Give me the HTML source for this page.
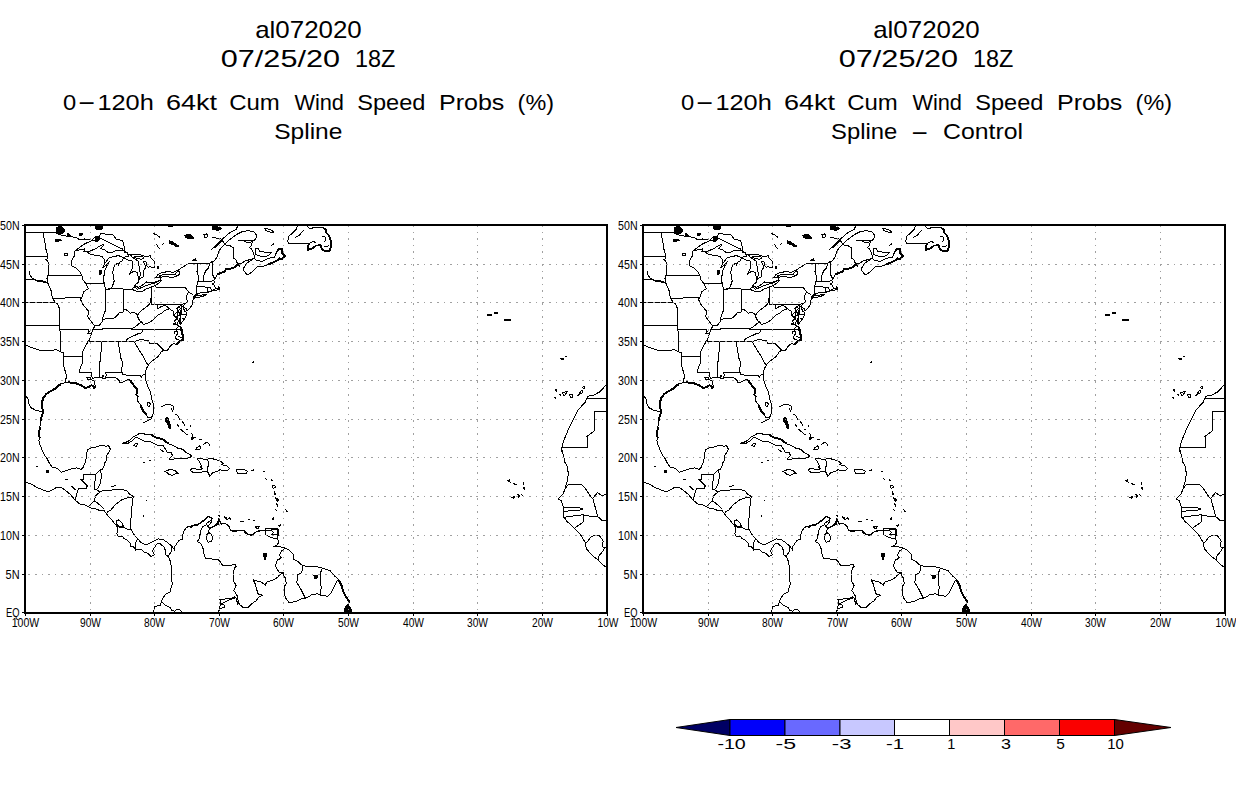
<!DOCTYPE html>
<html><head><meta charset="utf-8"><title>al072020 wind speed probs</title>
<style>html,body{margin:0;padding:0;background:#fff;}svg{display:block;}
text{font-family:"Liberation Sans", "DejaVu Sans", sans-serif;fill:#000;}</style></head>
<body><svg width="1236" height="800" viewBox="0 0 1236 800">
<rect width="1236" height="800" fill="#fff"/>
<text y="37.9" font-size="23.2"><tspan x="255.2" textLength="106.6" lengthAdjust="spacingAndGlyphs">al072020</tspan></text>
<text y="66.9" font-size="23.2"><tspan x="220.8" textLength="119.2" lengthAdjust="spacingAndGlyphs">07/25/20</tspan> <tspan x="355.0" textLength="40.4" lengthAdjust="spacingAndGlyphs">18Z</tspan></text>
<text y="110.0" font-size="21.8"><tspan x="63.0" textLength="13.2" lengthAdjust="spacingAndGlyphs">0</tspan><tspan x="77.2" dy="-1" textLength="18.8" lengthAdjust="spacingAndGlyphs">-</tspan><tspan x="97.4" dy="1" textLength="56.4" lengthAdjust="spacingAndGlyphs">120h</tspan> <tspan x="166.0" textLength="51.0" lengthAdjust="spacingAndGlyphs">64kt</tspan> <tspan x="229.2" textLength="50.6" lengthAdjust="spacingAndGlyphs">Cum</tspan> <tspan x="294.4" textLength="49.6" lengthAdjust="spacingAndGlyphs">Wind</tspan> <tspan x="357.2" textLength="68.2" lengthAdjust="spacingAndGlyphs">Speed</tspan> <tspan x="439.0" textLength="65.4" lengthAdjust="spacingAndGlyphs">Probs</tspan> <tspan x="517.6" textLength="36.4" lengthAdjust="spacingAndGlyphs">(%)</tspan></text>
<text y="37.9" font-size="23.2"><tspan x="873.2" textLength="106.6" lengthAdjust="spacingAndGlyphs">al072020</tspan></text>
<text y="66.9" font-size="23.2"><tspan x="838.8" textLength="119.2" lengthAdjust="spacingAndGlyphs">07/25/20</tspan> <tspan x="973.0" textLength="40.4" lengthAdjust="spacingAndGlyphs">18Z</tspan></text>
<text y="110.0" font-size="21.8"><tspan x="681.0" textLength="13.2" lengthAdjust="spacingAndGlyphs">0</tspan><tspan x="695.2" dy="-1" textLength="18.8" lengthAdjust="spacingAndGlyphs">-</tspan><tspan x="715.4" dy="1" textLength="56.4" lengthAdjust="spacingAndGlyphs">120h</tspan> <tspan x="784.0" textLength="51.0" lengthAdjust="spacingAndGlyphs">64kt</tspan> <tspan x="847.2" textLength="50.6" lengthAdjust="spacingAndGlyphs">Cum</tspan> <tspan x="912.4" textLength="49.6" lengthAdjust="spacingAndGlyphs">Wind</tspan> <tspan x="975.2" textLength="68.2" lengthAdjust="spacingAndGlyphs">Speed</tspan> <tspan x="1057.0" textLength="65.4" lengthAdjust="spacingAndGlyphs">Probs</tspan> <tspan x="1135.6" textLength="36.4" lengthAdjust="spacingAndGlyphs">(%)</tspan></text>
<text y="139.4" font-size="21.8"><tspan x="274.2" textLength="68.2" lengthAdjust="spacingAndGlyphs">Spline</tspan></text>
<text y="139.4" font-size="21.8"><tspan x="831.0" textLength="66.2" lengthAdjust="spacingAndGlyphs">Spline</tspan> <tspan x="910.6" textLength="18.4" lengthAdjust="spacingAndGlyphs">-</tspan> <tspan x="943.0" textLength="80.0" lengthAdjust="spacingAndGlyphs">Control</tspan></text>
<text x="717.4" y="749.0" font-size="14.5" textLength="28.4" lengthAdjust="spacingAndGlyphs">-10</text>
<text x="775.6" y="749.0" font-size="14.5" textLength="20.6" lengthAdjust="spacingAndGlyphs">-5</text>
<text x="831.8" y="749.0" font-size="14.5" textLength="19.6" lengthAdjust="spacingAndGlyphs">-3</text>
<text x="886.0" y="749.0" font-size="14.5" textLength="18.0" lengthAdjust="spacingAndGlyphs">-1</text>
<text x="947.2" y="749.0" font-size="14.5">1</text>
<text x="1001.0" y="749.0" font-size="14.5" textLength="10.0" lengthAdjust="spacingAndGlyphs">3</text>
<text x="1056.2" y="749.0" font-size="14.5" textLength="8.6" lengthAdjust="spacingAndGlyphs">5</text>
<text x="1107.2" y="749.0" font-size="14.5" textLength="16.6" lengthAdjust="spacingAndGlyphs">10</text>
<defs><clipPath id="fr"><rect x="25" y="225" width="582" height="388"/></clipPath></defs>
<g clip-path="url(#fr)" shape-rendering="crispEdges"><path d="M56.0 228.0 59.0 226.5 62.0 227.0 65.0 230.0 63.0 233.0 59.0 234.5 56.0 233.0Z M67.0 233.5 70.0 234.5 70.0 236.5 67.0 235.5Z M79.0 233.0 82.0 233.0 82.0 235.0 79.0 235.0Z M95.5 225.0 100.0 224.5 103.0 226.0 102.0 229.0 98.0 230.0 96.0 229.0Z M55.5 239.0 60.0 239.0 61.0 240.5 56.0 241.5Z M95.0 237.0 100.0 236.0 99.0 240.0 96.0 242.0Z M99.0 270.0 101.0 270.0 101.0 274.0 99.0 274.0Z M212.5 226.5 216.0 226.0 221.8 228.5 218.0 230.3 213.0 229.5Z M184.5 235.5 188.0 234.5 191.0 235.0 193.8 238.5 189.0 238.8 186.0 237.5Z M169.5 241.0 172.0 241.5 175.0 243.5 178.0 245.5 179.0 246.8 176.5 246.8 173.0 244.5 170.0 243.5Z M168.5 225.0 173.0 225.0 172.5 226.8 169.0 227.0Z M157.0 266.5 158.5 266.5 158.5 268.5 157.0 268.5Z M345.0 608.0 348.0 604.0 351.0 609.0 352.0 612.0 344.0 612.0Z M263.8 553.0 266.5 553.5 266.0 557.0 265.0 560.0 264.0 557.0Z M314.0 575.5 317.0 575.0 317.0 578.0 314.5 578.0Z M166.5 417.5 168.0 418.0 169.0 421.0 170.5 425.0 170.5 429.0 169.0 428.0 167.5 424.0 165.5 421.0 165.0 419.0Z M487.0 314.0 491.0 314.0 491.0 315.5 487.0 315.5Z M494.0 312.0 498.0 312.0 497.0 313.5 495.0 313.5Z M504.0 319.0 510.0 319.0 510.0 320.5 505.0 320.5Z M46.0 470.0 48.5 470.0 48.5 472.5 46.5 472.5Z" fill="#000" stroke="#000" stroke-width="1" stroke-linejoin="round"/><path d="M64.5 253.0 67.5 253.0 67.5 255.5 64.5 255.5Z M29.5 271.0 30.0 275.0 32.0 278.0 35.0 280.0 38.5 281.5 43.0 282.0 47.0 283.0 M210.5 250.5 215.0 246.0 219.5 241.5 224.8 237.0 230.0 232.5 236.0 229.5 237.5 226.5 238.3 224.0 M214.0 246.8 218.0 243.5 221.8 240.0 222.5 240.8 218.5 244.2 214.8 247.5Z M222.5 240.8 224.8 243.8 230.0 239.3 236.0 234.8 242.0 231.8 248.0 230.6 254.0 231.8 256.3 234.8 256.5 237.0 254.5 240.5 251.0 240.0 244.5 240.0 239.0 240.5 244.5 241.0 247.0 242.5 251.0 242.0 252.5 241.0 252.0 243.0 251.0 246.0 249.5 247.5 251.5 249.0 253.0 252.0 254.0 255.0 254.0 258.0 256.0 260.0 260.0 261.0 262.5 261.5 267.0 259.0 272.0 257.5 274.5 257.0 275.0 256.0 277.0 251.0 280.0 248.5 282.0 249.0 282.5 253.5 285.5 255.8 282.5 258.8 279.5 258.5 277.0 260.5 273.0 262.5 268.0 264.5 264.0 266.0 261.0 267.0 258.0 266.5 256.0 268.0 252.0 272.0 248.0 275.0 246.5 274.0 244.0 271.0 243.5 268.5 244.5 266.5 247.0 263.0 251.0 260.5 254.0 258.5 M238.5 264.0 242.0 263.0 245.0 261.0 248.5 260.0 252.0 259.0 254.0 258.0 M238.5 264.0 239.5 267.0 M255.5 249.0 258.0 248.5 260.0 251.5 267.0 252.5 271.5 252.5 269.0 255.0 266.0 256.5 262.0 256.5 258.0 255.5 256.0 254.5Z M270.5 246.5 272.5 244.5 274.5 243.5 M264.0 228.0 268.0 229.0 272.0 230.5 273.5 232.0 270.0 232.0 266.0 230.5Z M298.3 224.0 296.0 229.5 292.3 233.3 288.5 236.3 287.8 241.5 289.3 244.0 297.5 243.4 305.0 243.8 308.8 243.0 308.0 249.8 312.5 248.3 315.5 246.0 320.0 244.5 322.3 249.8 326.0 251.3 329.8 250.5 331.3 244.5 330.5 240.0 329.0 235.5 326.0 232.5 326.0 229.5 323.0 228.0 318.5 227.3 312.5 228.0 308.8 228.0 305.0 224.0 M303.5 230.3 299.0 235.5 295.5 237.5 M322.0 236.0 325.0 237.0 326.0 240.0 324.0 242.0 M310.0 243.0 313.0 241.5 316.0 242.5 M324.0 246.0 327.0 247.0 329.0 245.0 M204.0 234.5 206.5 234.0 208.0 236.0 206.5 237.8 204.5 237.0Z M212.0 237.2 216.0 238.0 221.0 238.8 M153.0 233.0 155.0 234.5 157.0 235.0 160.0 237.5 M156.5 244.0 158.0 247.0 160.5 249.5 M162.0 244.3 164.5 243.6 M193.0 260.5 195.5 258.5 196.5 260.8Z M265.5 530.3 268.9 530.9 272.0 531.0 M265.0 529.0 271.0 528.8 278.5 529.0 278.8 533.0 277.0 538.8 271.0 537.5 266.0 535.0Z M277.5 538.8 278.8 542.5 276.9 545.0 273.8 546.9 278.8 546.3 285.0 548.1 288.8 550.0 293.8 555.0 293.8 559.4 297.5 561.3 302.5 565.6 307.5 566.3 312.5 566.9 317.5 566.9 322.5 568.1 330.0 570.6 335.0 576.3 338.8 580.0 341.3 585.0 343.8 592.5 346.3 597.5 349.4 601.3 348.8 603.8 346.3 607.5 345.0 612.0 M285.0 548.1 281.3 551.3 279.4 555.0 281.3 558.0 277.5 560.0 276.7 562.0 275.4 566.1 277.4 569.5 279.4 572.5 284.1 572.8 M284.1 572.8 283.5 575.5 285.5 578.2 286.2 583.6 284.1 587.0 284.1 591.7 285.5 597.8 288.9 602.5 291.3 602.5 296.3 601.3 302.5 598.1 306.3 598.1 M302.5 565.6 301.9 572.5 297.5 575.0 296.9 582.5 301.3 590.0 305.0 597.5 306.3 598.1 M322.5 568.1 320.0 573.8 320.0 581.3 321.3 587.5 320.0 595.0 M306.3 598.1 311.3 595.0 317.5 593.8 320.0 595.0 327.5 596.3 331.3 592.5 335.0 585.0 337.5 580.0 M284.1 572.8 280.1 574.2 278.1 576.9 274.0 579.6 270.6 580.6 266.6 582.3 265.2 585.3 261.9 582.3 256.5 580.9 253.1 579.6 255.1 583.6 256.5 588.4 257.8 593.8 262.5 595.1 258.5 597.1 256.5 600.5 252.4 603.2 248.4 607.3 243.0 607.3 239.6 604.6 238.2 600.5 236.9 595.1 233.8 590.4 236.2 585.7 233.5 580.9 233.5 571.5 234.5 568.1 236.2 566.4 235.5 564.7 230.8 565.1 222.7 565.4 220.0 561.4 M235.5 596.5 230.8 598.5 220.0 599.5 220.6 604.3 224.0 604.9 224.0 607.7 219.5 608.3 218.3 612.0 M182.2 536.5 184.5 529.7 187.9 526.4 191.2 527.5 193.5 525.2 198.0 524.1 202.5 521.9 205.9 518.5 209.2 516.2 212.0 518.5 210.4 520.7 207.0 523.0 205.9 525.2 M205.9 525.2 202.5 526.9 200.8 530.9 199.1 538.7 197.4 541.6 200.8 543.2 203.6 550.0 204.2 555.6 205.9 558.4 218.2 559.6 220.0 561.4 M207.0 525.2 209.2 528.6 208.7 532.6 M208.7 532.6 211.5 534.2 212.6 537.6 211.5 541.6 208.1 542.1 206.4 538.7 206.4 535.4Z M209.2 528.6 213.7 526.4 218.2 524.7 218.8 519.6 219.4 518.5 220.5 523.0 225.0 523.6 228.4 525.2 230.6 530.9 238.5 530.9 244.1 530.3 247.5 534.2 252.0 535.4 256.5 531.4 261.0 530.9 265.5 530.3 M223.9 518.0 226.0 517.5 227.0 519.0 M228.5 518.0 230.6 519.6 M239.6 521.0 241.5 521.0 244.1 521.5 M248.0 519.5 250.0 520.0 M253.5 521.0 255.5 520.5 M161.1 601.0 165.7 605.5 170.2 607.7 171.9 610.6 174.7 611.1 177.0 609.4 179.3 609.4 181.5 611.7 M161.5 406.5 165.0 405.0 170.0 404.5 173.0 406.0 173.5 409.0 172.0 412.0 M171.0 407.5 171.5 410.5 M175.5 414.0 177.5 415.5 179.0 417.5 179.5 420.5 M177.0 424.0 178.0 425.5 179.0 426.5 M182.0 421.0 183.5 423.0 184.5 425.0 185.5 425.5 M190.5 425.0 190.5 427.0 M180.0 429.0 182.0 430.5 184.0 432.0 186.0 434.0 187.5 435.0 M186.0 430.0 188.5 429.5 M191.5 433.5 193.0 435.5 192.0 437.5 191.5 440.0 193.0 438.5 195.0 437.0 196.0 438.0 M199.0 439.0 201.5 440.0 M195.5 449.5 197.0 447.5 199.5 446.0 201.0 446.5 200.0 449.0 197.0 450.0Z M203.0 444.5 205.5 443.0 207.5 442.5 209.0 444.0 210.0 445.5 M212.0 446.0 212.5 446.5 M143.5 422.5 147.0 421.0 150.0 419.5 152.0 418.5 M147.0 403.0 149.5 402.5 150.5 404.5 149.0 406.5 147.5 405.5Z M160.0 449.5 162.0 450.5 164.0 452.0 M36.0 466.5 38.0 466.5 M65.0 479.5 68.0 480.0 M87.0 377.5 90.0 377.0 91.0 379.0 88.0 380.0Z M183.0 304.0 180.0 306.0 178.0 308.0 177.0 312.0 175.0 314.0 173.0 315.0 176.0 317.0 177.0 319.0 174.0 321.0 176.0 323.0 173.0 324.0 177.0 325.0 179.0 326.0 M182.0 306.0 181.0 310.0 180.0 314.0 180.0 318.0 179.5 322.0 180.0 324.0 M179.0 326.0 177.0 328.0 176.0 330.0 178.0 333.0 176.0 336.0 175.0 338.0 177.0 339.5 179.0 340.0 M176.0 331.0 174.0 332.0 175.0 334.0 M178.0 336.0 180.0 337.0 182.0 338.0 M183.0 329.0 182.0 331.0 183.0 333.0 M142.5 462.5 145.0 462.5 M149.0 460.5 151.0 460.0 M111.0 486.5 114.0 486.0 116.0 485.5 M143.5 515.0 143.5 516.5 M146.0 500.5 146.5 501.0 M25.0 232.8 56.4 232.8 56.4 229.8 57.7 229.9 58.5 230.4 59.9 234.9 63.8 235.5 67.0 236.3 70.3 235.7 72.9 237.0 76.7 238.0 80.0 239.9 84.5 239.0 89.7 239.7 92.3 240.5 94.2 240.7 100.0 238.2 122.6 249.1 124.9 252.5 127.5 252.2 127.8 254.5 131.1 255.3 132.3 257.2 138.2 261.1 140.4 274.7 138.7 279.3 138.2 282.4 135.6 284.4 134.3 286.7 137.5 289.4 145.9 285.5 154.3 283.2 160.8 280.1 160.5 277.4 159.5 275.8 162.7 274.7 175.0 274.7 177.6 270.8 181.5 267.7 188.3 263.8 209.3 263.8 212.0 261.5 213.5 261.9 217.4 256.4 219.0 250.6 224.0 244.8 230.0 245.6 233.2 247.7 233.2 256.4 233.6 258.4 235.5 259.1 236.8 262.2 238.4 264.2 M25.0 256.5 47.2 256.5 M42.9 232.8 43.8 237.4 45.0 242.8 45.7 248.3 47.2 253.7 47.2 256.5 47.2 259.1 45.4 259.1 48.0 261.5 48.0 275.4 47.0 278.5 48.0 283.2 M25.0 279.3 34.7 279.3 37.9 280.9 41.2 280.5 44.4 281.3 47.0 282.8 48.0 283.2 48.6 285.5 50.2 288.6 51.5 291.7 51.8 294.8 52.4 298.1 55.4 302.6 57.7 304.2 59.9 309.6 59.8 325.9 59.8 329.8 61.0 338.3 60.7 352.0 M25.0 302.6 55.4 302.6 M25.0 325.9 59.8 325.9 M25.0 344.8 28.2 346.1 31.5 347.6 34.7 348.4 38.6 349.9 43.1 350.7 47.6 350.7 52.2 350.3 56.0 349.5 60.6 351.9 63.5 352.7 63.5 356.8 63.5 364.7 65.1 370.9 66.7 376.3 65.7 379.4 64.8 382.5 M63.5 356.8 82.1 356.9 82.6 362.4 80.0 368.6 79.3 372.4 91.4 372.4 91.6 375.5 92.3 378.6 M59.8 329.8 88.7 329.8 89.2 331.3 87.3 333.6 91.6 333.6 M94.8 325.9 92.9 329.8 91.6 333.6 89.0 340.6 85.8 345.3 82.6 352.3 82.1 356.9 M52.4 298.1 80.5 297.9 80.6 299.7 83.2 304.9 85.8 308.0 88.4 311.1 88.4 313.5 87.7 316.6 92.3 322.8 94.8 325.9 M80.6 299.7 82.6 295.6 83.8 291.7 88.4 288.6 85.8 284.0 85.5 283.2 82.6 279.3 81.8 275.4 M48.0 275.4 81.8 275.4 80.6 272.7 76.7 268.5 71.6 265.7 71.9 259.9 74.8 255.3 74.8 250.9 76.1 250.2 M87.1 251.6 89.0 253.7 95.5 255.3 102.0 256.4 103.9 259.1 105.2 263.0 M85.5 283.2 103.9 283.2 M105.6 288.9 105.6 307.6 105.2 311.1 103.2 315.8 102.3 319.7 102.0 322.0 99.4 325.1 94.8 325.9 M102.3 319.7 105.8 318.9 110.4 318.5 114.2 318.1 116.8 315.8 119.4 312.7 123.3 311.9 123.2 309.6 123.3 289.4 M107.8 288.9 123.3 288.9 M123.3 289.4 132.0 289.2 M123.2 309.6 125.9 309.6 130.4 313.1 134.9 312.7 137.5 315.0 140.1 311.9 142.7 309.6 145.9 307.3 148.8 304.9 150.5 301.8 151.0 297.6 151.0 287.1 M155.9 285.0 155.9 287.1 184.3 287.1 186.0 288.6 188.6 292.1 193.1 294.8 M188.6 292.1 186.0 296.4 186.3 299.5 188.3 301.0 186.0 303.0 184.1 304.2 183.4 303.9 181.6 304.8 M151.0 297.6 151.0 304.8 181.6 304.8 181.6 314.6 186.3 314.6 M182.1 318.1 185.1 318.1 M157.7 304.8 157.7 308.8 160.8 306.9 162.7 306.1 165.3 305.7 169.2 308.0 170.5 309.6 173.1 311.1 173.4 311.9 M169.2 308.0 168.2 309.2 164.7 310.4 161.4 313.5 158.2 315.0 155.6 317.3 152.4 320.4 148.5 322.8 145.3 323.9 143.3 324.3 141.7 322.0 139.5 320.4 137.5 316.6 137.5 315.0 M141.7 322.0 138.2 324.3 134.9 327.0 130.6 329.0 143.5 329.1 181.0 329.4 M92.9 329.8 102.1 329.8 102.3 328.4 122.0 328.8 130.6 329.0 M143.5 329.1 141.4 332.9 137.5 334.0 134.3 335.6 130.4 337.1 128.5 338.3 126.5 339.7 126.4 341.4 87.7 341.4 89.0 340.6 M126.4 341.4 134.3 341.4 139.5 339.8 147.6 340.2 148.5 340.6 149.2 343.0 156.3 343.0 163.7 350.3 M134.3 341.4 136.2 345.3 140.1 351.5 142.7 355.4 144.6 359.2 147.2 363.9 148.5 364.7 M118.1 341.4 120.7 357.7 122.0 360.8 122.3 364.7 121.7 368.6 122.0 372.4 122.9 374.8 140.1 375.8 141.4 377.1 143.3 374.4 145.0 374.8 M122.0 372.4 105.2 372.4 106.2 374.8 105.8 377.9 M101.3 341.4 102.0 342.2 99.6 365.5 100.0 377.1 M197.3 263.8 197.7 267.7 197.0 271.6 198.0 274.7 198.0 281.3 196.4 286.7 196.4 293.3 195.4 294.8 M209.3 263.8 208.7 267.7 205.7 270.8 204.1 274.7 203.2 279.3 203.1 281.5 M198.0 281.3 203.1 281.5 210.6 281.6 213.2 280.3 M212.0 261.5 212.5 271.6 212.9 275.4 214.5 278.5 M196.4 286.7 207.4 287.1 210.1 287.1 210.1 287.9 211.6 289.8 211.6 291.0 M207.4 287.1 207.4 292.1 M25.0 394.2 28.2 399.6 28.6 403.5 30.8 407.7 34.1 409.3 36.6 410.7 39.9 411.2 43.4 411.6 M75.1 500.1 76.1 496.1 78.5 488.3 86.8 488.3 87.1 485.7 80.6 479.1 83.3 479.1 83.3 474.7 95.2 474.7 100.7 469.4 M95.2 474.7 94.8 489.6 96.8 489.6 M101.3 491.0 98.1 493.5 95.2 496.2 94.8 499.7 93.9 501.1 92.3 502.4 89.0 506.3 M93.9 501.1 97.4 502.8 99.4 504.7 103.9 509.0 M107.1 512.3 111.0 509.8 115.5 504.4 122.0 499.7 125.2 498.5 133.6 496.6 M117.5 526.9 123.9 527.3 127.2 529.2 129.1 529.8 130.7 528.2 M137.8 538.7 135.6 543.2 135.6 550.5 M167.9 557.0 171.1 551.7 171.3 545.7 M239.2 603.5 237.8 604.1 235.8 597.5 230.6 599.4 220.3 604.5 219.6 608.3 218.7 613.0 M607.0 372.4 608.0 369.3 607.8 375.3 609.6 376.9 607.6 381.8 605.9 385.0 603.1 388.3 599.9 391.8 594.1 394.9 588.1 396.3 586.3 398.8 585.0 402.7 581.1 406.6 577.9 410.2 574.7 416.7 571.4 422.9 568.5 429.1 566.3 434.5 564.3 439.2 562.1 446.2 561.4 451.8 562.4 450.8 565.0 462.5 566.9 465.6 568.2 472.5 567.9 478.8 566.3 484.2 565.0 488.8 563.0 494.3 558.3 498.8 561.1 500.5 562.4 503.6 563.4 507.5 563.4 508.6 563.7 512.1 563.4 516.8 565.0 518.3 566.9 521.4 571.4 525.3 574.7 528.4 576.6 530.7 581.1 535.4 583.1 539.3 585.7 542.8 586.0 547.0 587.0 549.4 590.8 554.0 594.1 557.1 597.9 559.5 601.8 564.1 605.1 566.4 607.0 567.6 M586.5 398.3 607.0 398.3 M561.4 447.5 587.6 447.5 587.0 436.5 594.1 431.0 594.1 411.2 607.0 411.2 M565.0 488.5 568.2 485.0 574.7 484.2 581.1 484.2 585.0 488.1 590.8 496.6 592.8 498.5 597.3 492.7 602.5 495.8 607.0 493.9 M592.8 498.5 597.9 516.8 M563.0 507.5 574.7 507.5 582.4 508.2 582.4 509.8 574.7 510.6 563.7 511.3 M563.7 517.3 583.1 514.7 583.1 522.2 574.7 528.0 M583.1 514.7 592.1 516.8 597.9 516.8 602.5 520.7 607.0 520.7 M585.7 542.8 588.2 540.8 591.5 536.2 599.2 535.4 603.1 540.8 602.5 547.0 605.1 547.0 607.0 547.8 M597.9 559.5 599.2 555.6 603.1 550.9 605.1 547.0 M238.4 264.2 235.2 266.9 230.6 268.8 226.8 268.5 224.2 271.6 220.3 273.1 217.4 274.3 215.1 278.5 214.2 278.9 213.8 280.9 215.1 282.0 212.5 284.0 214.5 285.5 215.1 287.5 215.8 288.9 218.7 289.0 219.0 287.9 218.0 286.7 219.0 287.1 219.3 288.6 219.3 289.6 217.1 290.0 214.8 290.7 214.2 289.2 213.2 290.2 211.9 291.0 210.6 291.2 209.6 291.7 207.0 292.4 205.4 292.4 202.8 292.7 200.2 292.9 198.3 293.7 196.0 294.7 194.4 296.0 193.1 297.2 193.1 299.1 192.8 302.6 191.8 305.7 190.2 307.6 187.0 310.9 186.3 308.8 184.1 307.3 183.1 305.3 182.8 306.5 184.1 309.6 184.7 311.1 186.0 312.1 186.0 315.8 185.1 318.1 184.4 318.9 182.1 322.0 180.5 324.9 180.2 323.6 180.8 321.2 180.5 318.1 180.2 315.8 178.9 315.8 179.6 313.5 178.3 311.1 180.2 308.8 179.6 306.1 177.6 308.0 176.6 308.4 177.6 310.4 177.0 310.7 177.0 315.0 177.9 317.3 176.3 316.6 173.7 315.0 173.4 311.9 174.4 315.8 177.6 318.9 178.3 321.2 177.6 323.6 178.3 325.9 178.3 326.7 180.4 326.7 181.2 329.8 182.1 333.6 183.4 336.7 183.4 339.6 181.8 339.8 180.2 341.0 178.9 341.8 176.8 344.5 173.7 343.7 170.5 345.7 167.6 350.3 164.0 350.3 161.4 351.5 159.5 354.6 157.6 356.9 155.0 358.9 152.4 360.8 149.8 363.1 148.5 364.7 146.9 367.8 145.3 371.3 145.0 374.8 145.3 377.5 145.9 381.0 147.9 386.4 149.5 389.9 150.5 392.2 151.1 395.7 151.7 398.8 153.0 402.7 154.0 405.8 153.7 410.5 153.4 413.2 152.4 415.9 151.4 417.4 148.5 417.8 147.2 417.4 146.6 414.3 144.0 412.0 142.7 410.1 141.4 407.4 140.1 404.3 138.5 402.7 137.5 400.4 136.9 398.0 138.2 396.9 136.2 394.9 136.9 392.6 137.2 389.5 134.6 386.8 132.3 383.3 130.4 380.6 127.2 379.6 125.9 380.6 122.6 382.1 122.0 382.9 119.7 382.7 119.4 381.0 117.5 379.0 114.9 377.5 112.3 377.3 107.8 377.6 105.2 378.3 102.9 378.3 103.2 375.2 102.3 375.2 102.0 377.5 99.4 377.5 96.8 377.1 94.2 377.9 92.3 378.6 91.6 379.8 93.5 380.6 94.8 382.1 94.2 384.1 95.8 385.6 95.2 388.0 93.5 388.3 93.5 386.4 91.6 385.2 89.7 386.4 88.4 387.2 86.4 387.6 84.5 387.6 81.9 386.0 81.3 385.2 78.0 384.1 76.1 383.3 72.9 383.3 70.3 382.4 68.0 382.0 64.8 382.5 61.2 384.1 58.6 385.6 56.7 387.2 55.1 388.7 51.5 390.7 48.3 392.6 45.7 394.6 44.4 396.5 43.1 398.4 42.1 401.9 41.8 405.0 42.5 408.9 43.4 411.6 41.8 415.9 40.8 420.6 39.9 426.8 39.2 433.0 39.6 437.6 38.9 440.3 39.9 444.6 42.1 450.0 43.8 453.9 47.0 458.6 48.6 461.7 50.2 464.4 52.2 467.1 56.0 467.9 58.6 469.4 61.2 472.2 65.1 471.0 69.0 469.8 72.2 468.7 76.7 467.9 78.0 468.3 81.3 469.4 83.2 467.1 85.1 462.5 86.1 459.0 86.8 453.9 87.4 450.0 91.9 447.7 96.1 446.9 101.3 445.4 105.8 446.2 108.7 445.8 110.4 449.3 108.4 453.1 106.2 456.2 106.2 460.9 104.5 463.2 103.9 466.3 102.6 469.4 100.7 469.4 101.3 477.2 100.7 481.9 99.4 485.7 96.8 489.6 98.7 491.2 101.3 491.2 105.8 490.4 110.4 490.4 114.2 489.2 115.9 489.2 122.0 489.6 126.5 490.4 129.8 494.3 133.6 496.6 132.3 500.5 132.3 504.4 131.4 509.0 131.7 516.0 130.1 519.9 130.4 524.5 130.4 528.4 132.3 531.5 134.6 535.4 137.5 538.5 140.1 541.6 142.7 543.5 146.6 544.7 151.1 542.4 155.0 540.4 158.2 538.9 163.4 539.7 167.3 542.4 171.5 545.9 174.7 550.1 175.0 546.3 178.9 540.4 182.1 539.3 183.4 532.3 185.4 528.8 187.6 526.9 191.8 525.7 197.7 525.3 202.2 521.4 204.8 519.1 208.0 516.4 210.9 517.9 211.9 521.4 208.7 525.3 209.3 528.0 212.5 526.9 216.4 524.5 217.7 522.2 219.0 518.3 220.3 523.0 220.9 524.1 225.5 523.8 229.3 526.9 230.6 530.7 235.2 531.5 238.4 530.7 243.6 530.7 246.2 533.8 251.3 534.6 253.3 533.8 256.5 531.5 259.1 530.7 264.3 530.0 269.4 530.0 271.4 530.0 M25.0 480.3 25.6 482.2 31.5 484.2 36.6 487.3 41.2 489.2 47.6 491.6 50.9 490.8 56.0 487.7 58.6 487.3 62.5 488.1 66.4 491.2 70.3 494.3 74.8 499.7 80.6 504.7 85.8 505.1 91.0 508.2 96.1 509.0 100.0 510.6 103.9 510.6 105.8 512.5 107.8 516.0 111.0 519.1 115.5 524.5 117.5 527.3 117.5 530.7 116.8 533.8 118.1 536.2 120.7 537.0 122.6 536.2 123.9 538.5 127.2 540.1 130.4 543.2 131.1 547.0 133.0 546.3 134.9 548.6 137.5 549.4 141.4 549.4 144.6 552.5 147.9 553.2 151.1 556.4 154.3 554.8 152.4 550.9 154.3 547.8 156.9 543.9 159.5 543.2 164.0 547.0 165.3 550.1 166.0 554.8 168.6 557.1 170.5 561.8 171.8 568.8 171.1 579.6 172.4 583.5 169.9 592.0 165.3 594.4 162.1 599.8 160.2 605.2 154.3 606.8 153.7 613.0 M116.2 520.7 118.8 519.9 122.0 523.0 123.3 526.1 120.1 526.9 116.8 524.5Z M193.5 297.9 196.4 295.6 201.5 295.2 204.1 294.5 207.0 294.3 203.5 296.0 198.3 297.6 193.8 298.2Z M122.3 443.4 125.9 442.3 129.1 440.7 133.6 436.5 138.2 434.5 139.1 433.4 144.0 433.7 144.6 434.1 151.1 434.9 156.3 437.6 162.7 439.2 168.6 443.8 172.4 445.0 177.6 448.1 182.8 449.3 186.0 452.4 192.3 456.0 189.9 457.4 185.4 458.6 180.2 458.2 173.7 459.0 169.2 459.0 172.4 455.5 171.1 452.4 167.3 452.4 163.4 445.8 157.6 445.4 151.1 441.9 146.6 441.5 142.7 440.7 140.8 439.2 136.2 437.2 132.3 440.7 128.5 443.1Z M135.6 443.1 137.8 444.2 136.2 446.5 134.0 445.4Z M165.0 471.4 169.9 469.4 174.4 470.2 178.3 473.3 174.4 474.1 172.4 475.6 168.6 474.1 166.0 471.8Z M190.2 470.6 191.8 468.3 197.0 469.1 200.9 469.8 202.2 468.3 200.9 464.8 199.0 460.9 197.0 459.1 200.9 458.3 204.8 459.7 208.0 459.0 212.5 458.6 214.5 459.4 219.0 460.5 223.5 463.2 221.6 464.8 226.8 465.9 229.7 468.7 226.8 471.0 219.6 469.8 217.7 471.4 215.1 471.8 211.9 473.3 209.9 476.4 208.0 472.5 206.1 471.8 202.8 471.8 197.7 472.9 194.4 472.9 191.2 471.4Z M207.7 460.1 208.7 464.0 207.4 468.7 208.0 471.0 207.7 472.9 M200.2 466.7 202.2 467.1 200.9 467.9Z M236.8 469.4 244.9 469.8 247.5 471.4 245.8 473.7 241.6 473.7 237.1 473.7Z M251.3 470.2 253.9 469.8 253.3 471.0Z M263.6 471.8 264.6 471.4Z M265.6 478.4 266.9 479.5Z M271.7 479.9 272.7 480.7 272.0 481.2Z M272.0 486.1 274.0 485.3 275.9 486.5 273.3 488.8Z M274.3 491.9 275.6 493.5 274.6 495.0Z M275.9 497.8 278.2 499.7 277.8 501.3 276.2 500.1Z M276.9 503.6 277.8 504.7 277.2 506.7Z M285.9 509.8 287.2 511.3 286.6 511.7Z M275.6 509.4 276.6 511.0Z M272.0 518.3 273.3 517.9 273.0 519.9Z M278.5 525.3 280.4 524.9 279.8 526.5Z M271.4 530.0 277.2 529.2 277.5 534.6 271.4 535.0 273.3 532.3Z M255.2 526.5 259.1 526.5 258.8 528.4 256.5 528.0Z M218.7 515.2 219.6 516.4Z M224.5 516.8 227.1 519.5Z M229.3 517.6 230.6 519.5Z M252.3 362.4 253.6 361.7 253.3 362.7Z M560.1 358.5 564.0 358.9 562.4 359.6Z M565.6 356.1 566.3 356.5Z M555.6 389.5 556.9 390.3 556.2 391.8Z M554.3 397.7 555.9 397.3 555.3 398.4Z M559.5 394.6 561.1 394.9 560.4 395.7Z M562.4 392.6 567.2 391.5 565.3 394.9 563.7 395.7Z M569.5 394.9 572.1 394.6 572.1 397.3 570.8 397.7Z M577.9 395.3 582.1 389.9 582.1 393.0 579.8 394.2Z M582.1 387.6 584.7 386.0 584.7 388.7Z M507.7 480.3 510.0 479.9 509.7 481.9Z M509.7 481.9 510.6 482.2Z M513.9 483.8 516.5 484.2 514.5 484.6Z M523.3 482.2 523.6 484.2Z M523.3 487.3 524.9 488.1 524.2 489.2Z M521.3 494.3 522.3 495.4Z M517.8 494.3 519.7 495.8 518.4 497.4Z M513.2 496.6 514.5 497.0 513.9 498.2Z M511.6 497.4 512.3 497.8Z M76.1 250.0 78.9 248.1 83.8 244.4 87.5 242.5 91.7 240.8 94.5 237.6 99.4 235.9 100.9 232.9 105.8 234.1 112.9 234.9 116.2 239.0 122.6 240.9 124.6 248.3 124.6 251.9 126.2 252.2 122.3 250.1 115.7 250.8 111.3 252.8 106.5 251.8 104.5 249.6 100.7 248.7 103.2 246.0 103.6 244.6 102.0 245.0 98.7 246.7 96.1 248.7 94.0 249.3 89.7 251.4 83.8 251.4 84.5 248.7 82.6 249.4 76.1 250.5Z M123.7 257.7 118.8 255.7 113.6 256.4 111.0 257.2 108.7 258.0 105.2 263.0 102.6 267.5 106.6 265.1 109.4 261.5 107.8 264.6 105.8 268.1 104.8 270.8 104.5 273.5 103.2 278.9 105.2 288.0 107.1 290.0 109.7 289.3 112.4 286.3 114.2 281.0 113.6 277.5 112.6 271.9 113.4 269.6 114.0 266.7 115.2 264.6 117.2 263.6 118.1 262.8 118.1 265.7 120.3 261.3 122.3 260.9 123.7 257.7Z M123.7 257.7 125.4 258.8 129.6 260.5 132.0 261.1 132.2 263.3 133.0 265.4 131.7 269.6 129.2 274.7 130.7 272.6 134.9 271.2 137.2 272.7 138.7 279.3 138.8 279.5 143.0 277.0 143.2 273.6 143.7 270.2 145.5 267.7 145.3 265.4 143.6 261.9 145.9 261.9 147.0 265.8 148.3 267.1 150.5 266.9 152.9 267.7 154.3 267.5 155.0 265.7 154.0 261.2 150.8 257.8 150.5 255.9 144.6 256.3 139.5 254.6 135.3 254.6 131.4 254.1 127.8 254.1 126.2 252.2 128.5 255.3 129.1 256.2 126.5 256.2 123.7 257.7Z M134.9 256.4 138.8 256.6 143.0 256.8 143.3 258.4 141.4 259.1 138.2 258.9 134.9 257.6 134.3 256.8Z M134.0 286.7 132.0 289.4 136.9 291.3 140.2 291.2 143.3 291.0 146.1 288.9 149.2 287.9 153.8 286.1 158.7 283.4 161.4 280.3 161.3 280.1 159.2 280.3 153.7 282.8 146.6 282.0 142.4 285.0 138.2 287.6 137.5 286.8 134.3 286.3Z M160.3 277.3 155.6 277.2 158.3 274.4 161.8 272.6 166.2 271.9 169.1 271.6 171.8 272.3 175.0 271.9 177.1 269.9 178.1 270.6 179.4 271.9 178.9 275.4 177.0 275.8 173.9 277.2 169.9 277.3 166.0 276.4 160.3 277.3Z M138.7 279.3 138.2 282.4 135.6 284.4 134.0 286.7" fill="none" stroke="#000" stroke-width="1" stroke-linejoin="round"/><path d="M71.5 486.0 73.5 488.0 75.5 490.0 M323.0 228.0 326.0 229.5 326.0 232.5 329.0 235.5 330.5 240.0 331.3 244.5 329.8 250.5 326.0 251.3 322.3 249.8 320.0 244.5 M277.0 251.0 280.0 248.5 282.0 249.0 282.5 253.5 285.5 255.8 282.5 258.8 279.5 258.5 277.0 260.5 273.0 262.5 268.0 264.5 M308.8 243.0 308.0 249.8 312.5 248.3 315.5 246.0 M338.8 580.0 341.3 585.0 343.8 592.5 346.3 597.5 349.4 601.3 M40.8 420.6 41.8 415.9 43.4 411.6 42.5 408.9 41.8 405.0 42.1 401.9 43.1 398.4 44.4 396.5 45.7 394.6 48.3 392.6 51.5 390.7 55.1 388.7 56.7 387.2 58.6 385.6 61.2 384.1 M68.0 382.0 72.9 383.3 76.1 383.3 78.0 384.1 81.3 385.2 84.5 387.6 86.4 387.6 88.4 387.2 91.6 385.2 93.5 386.4 95.2 388.0 M136.2 394.9 136.9 392.6 137.2 389.5 134.6 386.8 132.3 383.3 130.4 380.6 127.2 379.6 M146.6 414.3 144.0 412.0 142.7 410.1 141.4 407.4 140.1 404.3 M180.4 326.7 181.2 329.8 182.1 333.6 183.4 336.7 183.4 339.6 181.8 339.8 180.2 341.0 178.9 341.8 176.8 344.5 M238.4 264.2 235.2 266.9 230.6 268.8 226.8 268.5 224.2 271.6 220.3 273.1 217.4 274.3 M151.1 434.9 156.3 437.6 162.7 439.2 168.6 443.8 M39.9 426.8 39.2 433.0 39.6 437.6" fill="none" stroke="#000" stroke-width="2" stroke-linejoin="round"/></g>
<g transform="translate(618,0)"><g clip-path="url(#fr)" shape-rendering="crispEdges"><path d="M56.0 228.0 59.0 226.5 62.0 227.0 65.0 230.0 63.0 233.0 59.0 234.5 56.0 233.0Z M67.0 233.5 70.0 234.5 70.0 236.5 67.0 235.5Z M79.0 233.0 82.0 233.0 82.0 235.0 79.0 235.0Z M95.5 225.0 100.0 224.5 103.0 226.0 102.0 229.0 98.0 230.0 96.0 229.0Z M55.5 239.0 60.0 239.0 61.0 240.5 56.0 241.5Z M95.0 237.0 100.0 236.0 99.0 240.0 96.0 242.0Z M99.0 270.0 101.0 270.0 101.0 274.0 99.0 274.0Z M212.5 226.5 216.0 226.0 221.8 228.5 218.0 230.3 213.0 229.5Z M184.5 235.5 188.0 234.5 191.0 235.0 193.8 238.5 189.0 238.8 186.0 237.5Z M169.5 241.0 172.0 241.5 175.0 243.5 178.0 245.5 179.0 246.8 176.5 246.8 173.0 244.5 170.0 243.5Z M168.5 225.0 173.0 225.0 172.5 226.8 169.0 227.0Z M157.0 266.5 158.5 266.5 158.5 268.5 157.0 268.5Z M345.0 608.0 348.0 604.0 351.0 609.0 352.0 612.0 344.0 612.0Z M263.8 553.0 266.5 553.5 266.0 557.0 265.0 560.0 264.0 557.0Z M314.0 575.5 317.0 575.0 317.0 578.0 314.5 578.0Z M166.5 417.5 168.0 418.0 169.0 421.0 170.5 425.0 170.5 429.0 169.0 428.0 167.5 424.0 165.5 421.0 165.0 419.0Z M487.0 314.0 491.0 314.0 491.0 315.5 487.0 315.5Z M494.0 312.0 498.0 312.0 497.0 313.5 495.0 313.5Z M504.0 319.0 510.0 319.0 510.0 320.5 505.0 320.5Z M46.0 470.0 48.5 470.0 48.5 472.5 46.5 472.5Z" fill="#000" stroke="#000" stroke-width="1" stroke-linejoin="round"/><path d="M64.5 253.0 67.5 253.0 67.5 255.5 64.5 255.5Z M29.5 271.0 30.0 275.0 32.0 278.0 35.0 280.0 38.5 281.5 43.0 282.0 47.0 283.0 M210.5 250.5 215.0 246.0 219.5 241.5 224.8 237.0 230.0 232.5 236.0 229.5 237.5 226.5 238.3 224.0 M214.0 246.8 218.0 243.5 221.8 240.0 222.5 240.8 218.5 244.2 214.8 247.5Z M222.5 240.8 224.8 243.8 230.0 239.3 236.0 234.8 242.0 231.8 248.0 230.6 254.0 231.8 256.3 234.8 256.5 237.0 254.5 240.5 251.0 240.0 244.5 240.0 239.0 240.5 244.5 241.0 247.0 242.5 251.0 242.0 252.5 241.0 252.0 243.0 251.0 246.0 249.5 247.5 251.5 249.0 253.0 252.0 254.0 255.0 254.0 258.0 256.0 260.0 260.0 261.0 262.5 261.5 267.0 259.0 272.0 257.5 274.5 257.0 275.0 256.0 277.0 251.0 280.0 248.5 282.0 249.0 282.5 253.5 285.5 255.8 282.5 258.8 279.5 258.5 277.0 260.5 273.0 262.5 268.0 264.5 264.0 266.0 261.0 267.0 258.0 266.5 256.0 268.0 252.0 272.0 248.0 275.0 246.5 274.0 244.0 271.0 243.5 268.5 244.5 266.5 247.0 263.0 251.0 260.5 254.0 258.5 M238.5 264.0 242.0 263.0 245.0 261.0 248.5 260.0 252.0 259.0 254.0 258.0 M238.5 264.0 239.5 267.0 M255.5 249.0 258.0 248.5 260.0 251.5 267.0 252.5 271.5 252.5 269.0 255.0 266.0 256.5 262.0 256.5 258.0 255.5 256.0 254.5Z M270.5 246.5 272.5 244.5 274.5 243.5 M264.0 228.0 268.0 229.0 272.0 230.5 273.5 232.0 270.0 232.0 266.0 230.5Z M298.3 224.0 296.0 229.5 292.3 233.3 288.5 236.3 287.8 241.5 289.3 244.0 297.5 243.4 305.0 243.8 308.8 243.0 308.0 249.8 312.5 248.3 315.5 246.0 320.0 244.5 322.3 249.8 326.0 251.3 329.8 250.5 331.3 244.5 330.5 240.0 329.0 235.5 326.0 232.5 326.0 229.5 323.0 228.0 318.5 227.3 312.5 228.0 308.8 228.0 305.0 224.0 M303.5 230.3 299.0 235.5 295.5 237.5 M322.0 236.0 325.0 237.0 326.0 240.0 324.0 242.0 M310.0 243.0 313.0 241.5 316.0 242.5 M324.0 246.0 327.0 247.0 329.0 245.0 M204.0 234.5 206.5 234.0 208.0 236.0 206.5 237.8 204.5 237.0Z M212.0 237.2 216.0 238.0 221.0 238.8 M153.0 233.0 155.0 234.5 157.0 235.0 160.0 237.5 M156.5 244.0 158.0 247.0 160.5 249.5 M162.0 244.3 164.5 243.6 M193.0 260.5 195.5 258.5 196.5 260.8Z M265.5 530.3 268.9 530.9 272.0 531.0 M265.0 529.0 271.0 528.8 278.5 529.0 278.8 533.0 277.0 538.8 271.0 537.5 266.0 535.0Z M277.5 538.8 278.8 542.5 276.9 545.0 273.8 546.9 278.8 546.3 285.0 548.1 288.8 550.0 293.8 555.0 293.8 559.4 297.5 561.3 302.5 565.6 307.5 566.3 312.5 566.9 317.5 566.9 322.5 568.1 330.0 570.6 335.0 576.3 338.8 580.0 341.3 585.0 343.8 592.5 346.3 597.5 349.4 601.3 348.8 603.8 346.3 607.5 345.0 612.0 M285.0 548.1 281.3 551.3 279.4 555.0 281.3 558.0 277.5 560.0 276.7 562.0 275.4 566.1 277.4 569.5 279.4 572.5 284.1 572.8 M284.1 572.8 283.5 575.5 285.5 578.2 286.2 583.6 284.1 587.0 284.1 591.7 285.5 597.8 288.9 602.5 291.3 602.5 296.3 601.3 302.5 598.1 306.3 598.1 M302.5 565.6 301.9 572.5 297.5 575.0 296.9 582.5 301.3 590.0 305.0 597.5 306.3 598.1 M322.5 568.1 320.0 573.8 320.0 581.3 321.3 587.5 320.0 595.0 M306.3 598.1 311.3 595.0 317.5 593.8 320.0 595.0 327.5 596.3 331.3 592.5 335.0 585.0 337.5 580.0 M284.1 572.8 280.1 574.2 278.1 576.9 274.0 579.6 270.6 580.6 266.6 582.3 265.2 585.3 261.9 582.3 256.5 580.9 253.1 579.6 255.1 583.6 256.5 588.4 257.8 593.8 262.5 595.1 258.5 597.1 256.5 600.5 252.4 603.2 248.4 607.3 243.0 607.3 239.6 604.6 238.2 600.5 236.9 595.1 233.8 590.4 236.2 585.7 233.5 580.9 233.5 571.5 234.5 568.1 236.2 566.4 235.5 564.7 230.8 565.1 222.7 565.4 220.0 561.4 M235.5 596.5 230.8 598.5 220.0 599.5 220.6 604.3 224.0 604.9 224.0 607.7 219.5 608.3 218.3 612.0 M182.2 536.5 184.5 529.7 187.9 526.4 191.2 527.5 193.5 525.2 198.0 524.1 202.5 521.9 205.9 518.5 209.2 516.2 212.0 518.5 210.4 520.7 207.0 523.0 205.9 525.2 M205.9 525.2 202.5 526.9 200.8 530.9 199.1 538.7 197.4 541.6 200.8 543.2 203.6 550.0 204.2 555.6 205.9 558.4 218.2 559.6 220.0 561.4 M207.0 525.2 209.2 528.6 208.7 532.6 M208.7 532.6 211.5 534.2 212.6 537.6 211.5 541.6 208.1 542.1 206.4 538.7 206.4 535.4Z M209.2 528.6 213.7 526.4 218.2 524.7 218.8 519.6 219.4 518.5 220.5 523.0 225.0 523.6 228.4 525.2 230.6 530.9 238.5 530.9 244.1 530.3 247.5 534.2 252.0 535.4 256.5 531.4 261.0 530.9 265.5 530.3 M223.9 518.0 226.0 517.5 227.0 519.0 M228.5 518.0 230.6 519.6 M239.6 521.0 241.5 521.0 244.1 521.5 M248.0 519.5 250.0 520.0 M253.5 521.0 255.5 520.5 M161.1 601.0 165.7 605.5 170.2 607.7 171.9 610.6 174.7 611.1 177.0 609.4 179.3 609.4 181.5 611.7 M161.5 406.5 165.0 405.0 170.0 404.5 173.0 406.0 173.5 409.0 172.0 412.0 M171.0 407.5 171.5 410.5 M175.5 414.0 177.5 415.5 179.0 417.5 179.5 420.5 M177.0 424.0 178.0 425.5 179.0 426.5 M182.0 421.0 183.5 423.0 184.5 425.0 185.5 425.5 M190.5 425.0 190.5 427.0 M180.0 429.0 182.0 430.5 184.0 432.0 186.0 434.0 187.5 435.0 M186.0 430.0 188.5 429.5 M191.5 433.5 193.0 435.5 192.0 437.5 191.5 440.0 193.0 438.5 195.0 437.0 196.0 438.0 M199.0 439.0 201.5 440.0 M195.5 449.5 197.0 447.5 199.5 446.0 201.0 446.5 200.0 449.0 197.0 450.0Z M203.0 444.5 205.5 443.0 207.5 442.5 209.0 444.0 210.0 445.5 M212.0 446.0 212.5 446.5 M143.5 422.5 147.0 421.0 150.0 419.5 152.0 418.5 M147.0 403.0 149.5 402.5 150.5 404.5 149.0 406.5 147.5 405.5Z M160.0 449.5 162.0 450.5 164.0 452.0 M36.0 466.5 38.0 466.5 M65.0 479.5 68.0 480.0 M87.0 377.5 90.0 377.0 91.0 379.0 88.0 380.0Z M183.0 304.0 180.0 306.0 178.0 308.0 177.0 312.0 175.0 314.0 173.0 315.0 176.0 317.0 177.0 319.0 174.0 321.0 176.0 323.0 173.0 324.0 177.0 325.0 179.0 326.0 M182.0 306.0 181.0 310.0 180.0 314.0 180.0 318.0 179.5 322.0 180.0 324.0 M179.0 326.0 177.0 328.0 176.0 330.0 178.0 333.0 176.0 336.0 175.0 338.0 177.0 339.5 179.0 340.0 M176.0 331.0 174.0 332.0 175.0 334.0 M178.0 336.0 180.0 337.0 182.0 338.0 M183.0 329.0 182.0 331.0 183.0 333.0 M142.5 462.5 145.0 462.5 M149.0 460.5 151.0 460.0 M111.0 486.5 114.0 486.0 116.0 485.5 M143.5 515.0 143.5 516.5 M146.0 500.5 146.5 501.0 M25.0 232.8 56.4 232.8 56.4 229.8 57.7 229.9 58.5 230.4 59.9 234.9 63.8 235.5 67.0 236.3 70.3 235.7 72.9 237.0 76.7 238.0 80.0 239.9 84.5 239.0 89.7 239.7 92.3 240.5 94.2 240.7 100.0 238.2 122.6 249.1 124.9 252.5 127.5 252.2 127.8 254.5 131.1 255.3 132.3 257.2 138.2 261.1 140.4 274.7 138.7 279.3 138.2 282.4 135.6 284.4 134.3 286.7 137.5 289.4 145.9 285.5 154.3 283.2 160.8 280.1 160.5 277.4 159.5 275.8 162.7 274.7 175.0 274.7 177.6 270.8 181.5 267.7 188.3 263.8 209.3 263.8 212.0 261.5 213.5 261.9 217.4 256.4 219.0 250.6 224.0 244.8 230.0 245.6 233.2 247.7 233.2 256.4 233.6 258.4 235.5 259.1 236.8 262.2 238.4 264.2 M25.0 256.5 47.2 256.5 M42.9 232.8 43.8 237.4 45.0 242.8 45.7 248.3 47.2 253.7 47.2 256.5 47.2 259.1 45.4 259.1 48.0 261.5 48.0 275.4 47.0 278.5 48.0 283.2 M25.0 279.3 34.7 279.3 37.9 280.9 41.2 280.5 44.4 281.3 47.0 282.8 48.0 283.2 48.6 285.5 50.2 288.6 51.5 291.7 51.8 294.8 52.4 298.1 55.4 302.6 57.7 304.2 59.9 309.6 59.8 325.9 59.8 329.8 61.0 338.3 60.7 352.0 M25.0 302.6 55.4 302.6 M25.0 325.9 59.8 325.9 M25.0 344.8 28.2 346.1 31.5 347.6 34.7 348.4 38.6 349.9 43.1 350.7 47.6 350.7 52.2 350.3 56.0 349.5 60.6 351.9 63.5 352.7 63.5 356.8 63.5 364.7 65.1 370.9 66.7 376.3 65.7 379.4 64.8 382.5 M63.5 356.8 82.1 356.9 82.6 362.4 80.0 368.6 79.3 372.4 91.4 372.4 91.6 375.5 92.3 378.6 M59.8 329.8 88.7 329.8 89.2 331.3 87.3 333.6 91.6 333.6 M94.8 325.9 92.9 329.8 91.6 333.6 89.0 340.6 85.8 345.3 82.6 352.3 82.1 356.9 M52.4 298.1 80.5 297.9 80.6 299.7 83.2 304.9 85.8 308.0 88.4 311.1 88.4 313.5 87.7 316.6 92.3 322.8 94.8 325.9 M80.6 299.7 82.6 295.6 83.8 291.7 88.4 288.6 85.8 284.0 85.5 283.2 82.6 279.3 81.8 275.4 M48.0 275.4 81.8 275.4 80.6 272.7 76.7 268.5 71.6 265.7 71.9 259.9 74.8 255.3 74.8 250.9 76.1 250.2 M87.1 251.6 89.0 253.7 95.5 255.3 102.0 256.4 103.9 259.1 105.2 263.0 M85.5 283.2 103.9 283.2 M105.6 288.9 105.6 307.6 105.2 311.1 103.2 315.8 102.3 319.7 102.0 322.0 99.4 325.1 94.8 325.9 M102.3 319.7 105.8 318.9 110.4 318.5 114.2 318.1 116.8 315.8 119.4 312.7 123.3 311.9 123.2 309.6 123.3 289.4 M107.8 288.9 123.3 288.9 M123.3 289.4 132.0 289.2 M123.2 309.6 125.9 309.6 130.4 313.1 134.9 312.7 137.5 315.0 140.1 311.9 142.7 309.6 145.9 307.3 148.8 304.9 150.5 301.8 151.0 297.6 151.0 287.1 M155.9 285.0 155.9 287.1 184.3 287.1 186.0 288.6 188.6 292.1 193.1 294.8 M188.6 292.1 186.0 296.4 186.3 299.5 188.3 301.0 186.0 303.0 184.1 304.2 183.4 303.9 181.6 304.8 M151.0 297.6 151.0 304.8 181.6 304.8 181.6 314.6 186.3 314.6 M182.1 318.1 185.1 318.1 M157.7 304.8 157.7 308.8 160.8 306.9 162.7 306.1 165.3 305.7 169.2 308.0 170.5 309.6 173.1 311.1 173.4 311.9 M169.2 308.0 168.2 309.2 164.7 310.4 161.4 313.5 158.2 315.0 155.6 317.3 152.4 320.4 148.5 322.8 145.3 323.9 143.3 324.3 141.7 322.0 139.5 320.4 137.5 316.6 137.5 315.0 M141.7 322.0 138.2 324.3 134.9 327.0 130.6 329.0 143.5 329.1 181.0 329.4 M92.9 329.8 102.1 329.8 102.3 328.4 122.0 328.8 130.6 329.0 M143.5 329.1 141.4 332.9 137.5 334.0 134.3 335.6 130.4 337.1 128.5 338.3 126.5 339.7 126.4 341.4 87.7 341.4 89.0 340.6 M126.4 341.4 134.3 341.4 139.5 339.8 147.6 340.2 148.5 340.6 149.2 343.0 156.3 343.0 163.7 350.3 M134.3 341.4 136.2 345.3 140.1 351.5 142.7 355.4 144.6 359.2 147.2 363.9 148.5 364.7 M118.1 341.4 120.7 357.7 122.0 360.8 122.3 364.7 121.7 368.6 122.0 372.4 122.9 374.8 140.1 375.8 141.4 377.1 143.3 374.4 145.0 374.8 M122.0 372.4 105.2 372.4 106.2 374.8 105.8 377.9 M101.3 341.4 102.0 342.2 99.6 365.5 100.0 377.1 M197.3 263.8 197.7 267.7 197.0 271.6 198.0 274.7 198.0 281.3 196.4 286.7 196.4 293.3 195.4 294.8 M209.3 263.8 208.7 267.7 205.7 270.8 204.1 274.7 203.2 279.3 203.1 281.5 M198.0 281.3 203.1 281.5 210.6 281.6 213.2 280.3 M212.0 261.5 212.5 271.6 212.9 275.4 214.5 278.5 M196.4 286.7 207.4 287.1 210.1 287.1 210.1 287.9 211.6 289.8 211.6 291.0 M207.4 287.1 207.4 292.1 M25.0 394.2 28.2 399.6 28.6 403.5 30.8 407.7 34.1 409.3 36.6 410.7 39.9 411.2 43.4 411.6 M75.1 500.1 76.1 496.1 78.5 488.3 86.8 488.3 87.1 485.7 80.6 479.1 83.3 479.1 83.3 474.7 95.2 474.7 100.7 469.4 M95.2 474.7 94.8 489.6 96.8 489.6 M101.3 491.0 98.1 493.5 95.2 496.2 94.8 499.7 93.9 501.1 92.3 502.4 89.0 506.3 M93.9 501.1 97.4 502.8 99.4 504.7 103.9 509.0 M107.1 512.3 111.0 509.8 115.5 504.4 122.0 499.7 125.2 498.5 133.6 496.6 M117.5 526.9 123.9 527.3 127.2 529.2 129.1 529.8 130.7 528.2 M137.8 538.7 135.6 543.2 135.6 550.5 M167.9 557.0 171.1 551.7 171.3 545.7 M239.2 603.5 237.8 604.1 235.8 597.5 230.6 599.4 220.3 604.5 219.6 608.3 218.7 613.0 M607.0 372.4 608.0 369.3 607.8 375.3 609.6 376.9 607.6 381.8 605.9 385.0 603.1 388.3 599.9 391.8 594.1 394.9 588.1 396.3 586.3 398.8 585.0 402.7 581.1 406.6 577.9 410.2 574.7 416.7 571.4 422.9 568.5 429.1 566.3 434.5 564.3 439.2 562.1 446.2 561.4 451.8 562.4 450.8 565.0 462.5 566.9 465.6 568.2 472.5 567.9 478.8 566.3 484.2 565.0 488.8 563.0 494.3 558.3 498.8 561.1 500.5 562.4 503.6 563.4 507.5 563.4 508.6 563.7 512.1 563.4 516.8 565.0 518.3 566.9 521.4 571.4 525.3 574.7 528.4 576.6 530.7 581.1 535.4 583.1 539.3 585.7 542.8 586.0 547.0 587.0 549.4 590.8 554.0 594.1 557.1 597.9 559.5 601.8 564.1 605.1 566.4 607.0 567.6 M586.5 398.3 607.0 398.3 M561.4 447.5 587.6 447.5 587.0 436.5 594.1 431.0 594.1 411.2 607.0 411.2 M565.0 488.5 568.2 485.0 574.7 484.2 581.1 484.2 585.0 488.1 590.8 496.6 592.8 498.5 597.3 492.7 602.5 495.8 607.0 493.9 M592.8 498.5 597.9 516.8 M563.0 507.5 574.7 507.5 582.4 508.2 582.4 509.8 574.7 510.6 563.7 511.3 M563.7 517.3 583.1 514.7 583.1 522.2 574.7 528.0 M583.1 514.7 592.1 516.8 597.9 516.8 602.5 520.7 607.0 520.7 M585.7 542.8 588.2 540.8 591.5 536.2 599.2 535.4 603.1 540.8 602.5 547.0 605.1 547.0 607.0 547.8 M597.9 559.5 599.2 555.6 603.1 550.9 605.1 547.0 M238.4 264.2 235.2 266.9 230.6 268.8 226.8 268.5 224.2 271.6 220.3 273.1 217.4 274.3 215.1 278.5 214.2 278.9 213.8 280.9 215.1 282.0 212.5 284.0 214.5 285.5 215.1 287.5 215.8 288.9 218.7 289.0 219.0 287.9 218.0 286.7 219.0 287.1 219.3 288.6 219.3 289.6 217.1 290.0 214.8 290.7 214.2 289.2 213.2 290.2 211.9 291.0 210.6 291.2 209.6 291.7 207.0 292.4 205.4 292.4 202.8 292.7 200.2 292.9 198.3 293.7 196.0 294.7 194.4 296.0 193.1 297.2 193.1 299.1 192.8 302.6 191.8 305.7 190.2 307.6 187.0 310.9 186.3 308.8 184.1 307.3 183.1 305.3 182.8 306.5 184.1 309.6 184.7 311.1 186.0 312.1 186.0 315.8 185.1 318.1 184.4 318.9 182.1 322.0 180.5 324.9 180.2 323.6 180.8 321.2 180.5 318.1 180.2 315.8 178.9 315.8 179.6 313.5 178.3 311.1 180.2 308.8 179.6 306.1 177.6 308.0 176.6 308.4 177.6 310.4 177.0 310.7 177.0 315.0 177.9 317.3 176.3 316.6 173.7 315.0 173.4 311.9 174.4 315.8 177.6 318.9 178.3 321.2 177.6 323.6 178.3 325.9 178.3 326.7 180.4 326.7 181.2 329.8 182.1 333.6 183.4 336.7 183.4 339.6 181.8 339.8 180.2 341.0 178.9 341.8 176.8 344.5 173.7 343.7 170.5 345.7 167.6 350.3 164.0 350.3 161.4 351.5 159.5 354.6 157.6 356.9 155.0 358.9 152.4 360.8 149.8 363.1 148.5 364.7 146.9 367.8 145.3 371.3 145.0 374.8 145.3 377.5 145.9 381.0 147.9 386.4 149.5 389.9 150.5 392.2 151.1 395.7 151.7 398.8 153.0 402.7 154.0 405.8 153.7 410.5 153.4 413.2 152.4 415.9 151.4 417.4 148.5 417.8 147.2 417.4 146.6 414.3 144.0 412.0 142.7 410.1 141.4 407.4 140.1 404.3 138.5 402.7 137.5 400.4 136.9 398.0 138.2 396.9 136.2 394.9 136.9 392.6 137.2 389.5 134.6 386.8 132.3 383.3 130.4 380.6 127.2 379.6 125.9 380.6 122.6 382.1 122.0 382.9 119.7 382.7 119.4 381.0 117.5 379.0 114.9 377.5 112.3 377.3 107.8 377.6 105.2 378.3 102.9 378.3 103.2 375.2 102.3 375.2 102.0 377.5 99.4 377.5 96.8 377.1 94.2 377.9 92.3 378.6 91.6 379.8 93.5 380.6 94.8 382.1 94.2 384.1 95.8 385.6 95.2 388.0 93.5 388.3 93.5 386.4 91.6 385.2 89.7 386.4 88.4 387.2 86.4 387.6 84.5 387.6 81.9 386.0 81.3 385.2 78.0 384.1 76.1 383.3 72.9 383.3 70.3 382.4 68.0 382.0 64.8 382.5 61.2 384.1 58.6 385.6 56.7 387.2 55.1 388.7 51.5 390.7 48.3 392.6 45.7 394.6 44.4 396.5 43.1 398.4 42.1 401.9 41.8 405.0 42.5 408.9 43.4 411.6 41.8 415.9 40.8 420.6 39.9 426.8 39.2 433.0 39.6 437.6 38.9 440.3 39.9 444.6 42.1 450.0 43.8 453.9 47.0 458.6 48.6 461.7 50.2 464.4 52.2 467.1 56.0 467.9 58.6 469.4 61.2 472.2 65.1 471.0 69.0 469.8 72.2 468.7 76.7 467.9 78.0 468.3 81.3 469.4 83.2 467.1 85.1 462.5 86.1 459.0 86.8 453.9 87.4 450.0 91.9 447.7 96.1 446.9 101.3 445.4 105.8 446.2 108.7 445.8 110.4 449.3 108.4 453.1 106.2 456.2 106.2 460.9 104.5 463.2 103.9 466.3 102.6 469.4 100.7 469.4 101.3 477.2 100.7 481.9 99.4 485.7 96.8 489.6 98.7 491.2 101.3 491.2 105.8 490.4 110.4 490.4 114.2 489.2 115.9 489.2 122.0 489.6 126.5 490.4 129.8 494.3 133.6 496.6 132.3 500.5 132.3 504.4 131.4 509.0 131.7 516.0 130.1 519.9 130.4 524.5 130.4 528.4 132.3 531.5 134.6 535.4 137.5 538.5 140.1 541.6 142.7 543.5 146.6 544.7 151.1 542.4 155.0 540.4 158.2 538.9 163.4 539.7 167.3 542.4 171.5 545.9 174.7 550.1 175.0 546.3 178.9 540.4 182.1 539.3 183.4 532.3 185.4 528.8 187.6 526.9 191.8 525.7 197.7 525.3 202.2 521.4 204.8 519.1 208.0 516.4 210.9 517.9 211.9 521.4 208.7 525.3 209.3 528.0 212.5 526.9 216.4 524.5 217.7 522.2 219.0 518.3 220.3 523.0 220.9 524.1 225.5 523.8 229.3 526.9 230.6 530.7 235.2 531.5 238.4 530.7 243.6 530.7 246.2 533.8 251.3 534.6 253.3 533.8 256.5 531.5 259.1 530.7 264.3 530.0 269.4 530.0 271.4 530.0 M25.0 480.3 25.6 482.2 31.5 484.2 36.6 487.3 41.2 489.2 47.6 491.6 50.9 490.8 56.0 487.7 58.6 487.3 62.5 488.1 66.4 491.2 70.3 494.3 74.8 499.7 80.6 504.7 85.8 505.1 91.0 508.2 96.1 509.0 100.0 510.6 103.9 510.6 105.8 512.5 107.8 516.0 111.0 519.1 115.5 524.5 117.5 527.3 117.5 530.7 116.8 533.8 118.1 536.2 120.7 537.0 122.6 536.2 123.9 538.5 127.2 540.1 130.4 543.2 131.1 547.0 133.0 546.3 134.9 548.6 137.5 549.4 141.4 549.4 144.6 552.5 147.9 553.2 151.1 556.4 154.3 554.8 152.4 550.9 154.3 547.8 156.9 543.9 159.5 543.2 164.0 547.0 165.3 550.1 166.0 554.8 168.6 557.1 170.5 561.8 171.8 568.8 171.1 579.6 172.4 583.5 169.9 592.0 165.3 594.4 162.1 599.8 160.2 605.2 154.3 606.8 153.7 613.0 M116.2 520.7 118.8 519.9 122.0 523.0 123.3 526.1 120.1 526.9 116.8 524.5Z M193.5 297.9 196.4 295.6 201.5 295.2 204.1 294.5 207.0 294.3 203.5 296.0 198.3 297.6 193.8 298.2Z M122.3 443.4 125.9 442.3 129.1 440.7 133.6 436.5 138.2 434.5 139.1 433.4 144.0 433.7 144.6 434.1 151.1 434.9 156.3 437.6 162.7 439.2 168.6 443.8 172.4 445.0 177.6 448.1 182.8 449.3 186.0 452.4 192.3 456.0 189.9 457.4 185.4 458.6 180.2 458.2 173.7 459.0 169.2 459.0 172.4 455.5 171.1 452.4 167.3 452.4 163.4 445.8 157.6 445.4 151.1 441.9 146.6 441.5 142.7 440.7 140.8 439.2 136.2 437.2 132.3 440.7 128.5 443.1Z M135.6 443.1 137.8 444.2 136.2 446.5 134.0 445.4Z M165.0 471.4 169.9 469.4 174.4 470.2 178.3 473.3 174.4 474.1 172.4 475.6 168.6 474.1 166.0 471.8Z M190.2 470.6 191.8 468.3 197.0 469.1 200.9 469.8 202.2 468.3 200.9 464.8 199.0 460.9 197.0 459.1 200.9 458.3 204.8 459.7 208.0 459.0 212.5 458.6 214.5 459.4 219.0 460.5 223.5 463.2 221.6 464.8 226.8 465.9 229.7 468.7 226.8 471.0 219.6 469.8 217.7 471.4 215.1 471.8 211.9 473.3 209.9 476.4 208.0 472.5 206.1 471.8 202.8 471.8 197.7 472.9 194.4 472.9 191.2 471.4Z M207.7 460.1 208.7 464.0 207.4 468.7 208.0 471.0 207.7 472.9 M200.2 466.7 202.2 467.1 200.9 467.9Z M236.8 469.4 244.9 469.8 247.5 471.4 245.8 473.7 241.6 473.7 237.1 473.7Z M251.3 470.2 253.9 469.8 253.3 471.0Z M263.6 471.8 264.6 471.4Z M265.6 478.4 266.9 479.5Z M271.7 479.9 272.7 480.7 272.0 481.2Z M272.0 486.1 274.0 485.3 275.9 486.5 273.3 488.8Z M274.3 491.9 275.6 493.5 274.6 495.0Z M275.9 497.8 278.2 499.7 277.8 501.3 276.2 500.1Z M276.9 503.6 277.8 504.7 277.2 506.7Z M285.9 509.8 287.2 511.3 286.6 511.7Z M275.6 509.4 276.6 511.0Z M272.0 518.3 273.3 517.9 273.0 519.9Z M278.5 525.3 280.4 524.9 279.8 526.5Z M271.4 530.0 277.2 529.2 277.5 534.6 271.4 535.0 273.3 532.3Z M255.2 526.5 259.1 526.5 258.8 528.4 256.5 528.0Z M218.7 515.2 219.6 516.4Z M224.5 516.8 227.1 519.5Z M229.3 517.6 230.6 519.5Z M252.3 362.4 253.6 361.7 253.3 362.7Z M560.1 358.5 564.0 358.9 562.4 359.6Z M565.6 356.1 566.3 356.5Z M555.6 389.5 556.9 390.3 556.2 391.8Z M554.3 397.7 555.9 397.3 555.3 398.4Z M559.5 394.6 561.1 394.9 560.4 395.7Z M562.4 392.6 567.2 391.5 565.3 394.9 563.7 395.7Z M569.5 394.9 572.1 394.6 572.1 397.3 570.8 397.7Z M577.9 395.3 582.1 389.9 582.1 393.0 579.8 394.2Z M582.1 387.6 584.7 386.0 584.7 388.7Z M507.7 480.3 510.0 479.9 509.7 481.9Z M509.7 481.9 510.6 482.2Z M513.9 483.8 516.5 484.2 514.5 484.6Z M523.3 482.2 523.6 484.2Z M523.3 487.3 524.9 488.1 524.2 489.2Z M521.3 494.3 522.3 495.4Z M517.8 494.3 519.7 495.8 518.4 497.4Z M513.2 496.6 514.5 497.0 513.9 498.2Z M511.6 497.4 512.3 497.8Z M76.1 250.0 78.9 248.1 83.8 244.4 87.5 242.5 91.7 240.8 94.5 237.6 99.4 235.9 100.9 232.9 105.8 234.1 112.9 234.9 116.2 239.0 122.6 240.9 124.6 248.3 124.6 251.9 126.2 252.2 122.3 250.1 115.7 250.8 111.3 252.8 106.5 251.8 104.5 249.6 100.7 248.7 103.2 246.0 103.6 244.6 102.0 245.0 98.7 246.7 96.1 248.7 94.0 249.3 89.7 251.4 83.8 251.4 84.5 248.7 82.6 249.4 76.1 250.5Z M123.7 257.7 118.8 255.7 113.6 256.4 111.0 257.2 108.7 258.0 105.2 263.0 102.6 267.5 106.6 265.1 109.4 261.5 107.8 264.6 105.8 268.1 104.8 270.8 104.5 273.5 103.2 278.9 105.2 288.0 107.1 290.0 109.7 289.3 112.4 286.3 114.2 281.0 113.6 277.5 112.6 271.9 113.4 269.6 114.0 266.7 115.2 264.6 117.2 263.6 118.1 262.8 118.1 265.7 120.3 261.3 122.3 260.9 123.7 257.7Z M123.7 257.7 125.4 258.8 129.6 260.5 132.0 261.1 132.2 263.3 133.0 265.4 131.7 269.6 129.2 274.7 130.7 272.6 134.9 271.2 137.2 272.7 138.7 279.3 138.8 279.5 143.0 277.0 143.2 273.6 143.7 270.2 145.5 267.7 145.3 265.4 143.6 261.9 145.9 261.9 147.0 265.8 148.3 267.1 150.5 266.9 152.9 267.7 154.3 267.5 155.0 265.7 154.0 261.2 150.8 257.8 150.5 255.9 144.6 256.3 139.5 254.6 135.3 254.6 131.4 254.1 127.8 254.1 126.2 252.2 128.5 255.3 129.1 256.2 126.5 256.2 123.7 257.7Z M134.9 256.4 138.8 256.6 143.0 256.8 143.3 258.4 141.4 259.1 138.2 258.9 134.9 257.6 134.3 256.8Z M134.0 286.7 132.0 289.4 136.9 291.3 140.2 291.2 143.3 291.0 146.1 288.9 149.2 287.9 153.8 286.1 158.7 283.4 161.4 280.3 161.3 280.1 159.2 280.3 153.7 282.8 146.6 282.0 142.4 285.0 138.2 287.6 137.5 286.8 134.3 286.3Z M160.3 277.3 155.6 277.2 158.3 274.4 161.8 272.6 166.2 271.9 169.1 271.6 171.8 272.3 175.0 271.9 177.1 269.9 178.1 270.6 179.4 271.9 178.9 275.4 177.0 275.8 173.9 277.2 169.9 277.3 166.0 276.4 160.3 277.3Z M138.7 279.3 138.2 282.4 135.6 284.4 134.0 286.7" fill="none" stroke="#000" stroke-width="1" stroke-linejoin="round"/><path d="M71.5 486.0 73.5 488.0 75.5 490.0 M323.0 228.0 326.0 229.5 326.0 232.5 329.0 235.5 330.5 240.0 331.3 244.5 329.8 250.5 326.0 251.3 322.3 249.8 320.0 244.5 M277.0 251.0 280.0 248.5 282.0 249.0 282.5 253.5 285.5 255.8 282.5 258.8 279.5 258.5 277.0 260.5 273.0 262.5 268.0 264.5 M308.8 243.0 308.0 249.8 312.5 248.3 315.5 246.0 M338.8 580.0 341.3 585.0 343.8 592.5 346.3 597.5 349.4 601.3 M40.8 420.6 41.8 415.9 43.4 411.6 42.5 408.9 41.8 405.0 42.1 401.9 43.1 398.4 44.4 396.5 45.7 394.6 48.3 392.6 51.5 390.7 55.1 388.7 56.7 387.2 58.6 385.6 61.2 384.1 M68.0 382.0 72.9 383.3 76.1 383.3 78.0 384.1 81.3 385.2 84.5 387.6 86.4 387.6 88.4 387.2 91.6 385.2 93.5 386.4 95.2 388.0 M136.2 394.9 136.9 392.6 137.2 389.5 134.6 386.8 132.3 383.3 130.4 380.6 127.2 379.6 M146.6 414.3 144.0 412.0 142.7 410.1 141.4 407.4 140.1 404.3 M180.4 326.7 181.2 329.8 182.1 333.6 183.4 336.7 183.4 339.6 181.8 339.8 180.2 341.0 178.9 341.8 176.8 344.5 M238.4 264.2 235.2 266.9 230.6 268.8 226.8 268.5 224.2 271.6 220.3 273.1 217.4 274.3 M151.1 434.9 156.3 437.6 162.7 439.2 168.6 443.8 M39.9 426.8 39.2 433.0 39.6 437.6" fill="none" stroke="#000" stroke-width="2" stroke-linejoin="round"/></g></g>
<path d="M90.5 225V613 M154.5 225V613 M219.5 225V613 M283.5 225V613 M348.5 225V613 M413.5 225V613 M477.5 225V613 M542.5 225V613" stroke="#a0a0a0" stroke-width="1" stroke-dasharray="1.6 4.9" fill="none" shape-rendering="crispEdges"/>
<path d="M25 574.5H607 M25 535.5H607 M25 496.5H607 M25 457.5H607 M25 419.5H607 M25 380.5H607 M25 341.5H607 M25 302.5H607 M25 264.5H607" stroke="#a0a0a0" stroke-width="1" stroke-dasharray="1.6 4.99" stroke-dashoffset="3.22" fill="none" shape-rendering="crispEdges"/>
<path d="M708.5 225V613 M772.5 225V613 M837.5 225V613 M901.5 225V613 M966.5 225V613 M1031.5 225V613 M1095.5 225V613 M1160.5 225V613" stroke="#a0a0a0" stroke-width="1" stroke-dasharray="1.6 4.9" fill="none" shape-rendering="crispEdges"/>
<path d="M643 574.5H1225 M643 535.5H1225 M643 496.5H1225 M643 457.5H1225 M643 419.5H1225 M643 380.5H1225 M643 341.5H1225 M643 302.5H1225 M643 264.5H1225" stroke="#a0a0a0" stroke-width="1" stroke-dasharray="1.6 4.99" stroke-dashoffset="3.22" fill="none" shape-rendering="crispEdges"/>
<rect x="25" y="225" width="582" height="388" fill="none" stroke="#000" stroke-width="2"/>
<path d="M25.5 614V616 M90.5 614V616 M154.5 614V616 M219.5 614V616 M283.5 614V616 M348.5 614V616 M413.5 614V616 M477.5 614V616 M542.5 614V616 M607.5 614V616 M22 612.5H24 M22 574.5H24 M22 535.5H24 M22 496.5H24 M22 457.5H24 M22 419.5H24 M22 380.5H24 M22 341.5H24 M22 302.5H24 M22 264.5H24 M22 225.5H24" stroke="#000" stroke-width="1" fill="none"/>
<text x="25.5" y="627.0" font-size="12.5" text-anchor="middle" textLength="27.5" lengthAdjust="spacingAndGlyphs" class="tl">100W</text>
<text x="90.5" y="627.0" font-size="12.5" text-anchor="middle" textLength="21" lengthAdjust="spacingAndGlyphs" class="tl">90W</text>
<text x="154.5" y="627.0" font-size="12.5" text-anchor="middle" textLength="21" lengthAdjust="spacingAndGlyphs" class="tl">80W</text>
<text x="219.5" y="627.0" font-size="12.5" text-anchor="middle" textLength="21" lengthAdjust="spacingAndGlyphs" class="tl">70W</text>
<text x="283.5" y="627.0" font-size="12.5" text-anchor="middle" textLength="21" lengthAdjust="spacingAndGlyphs" class="tl">60W</text>
<text x="348.5" y="627.0" font-size="12.5" text-anchor="middle" textLength="21" lengthAdjust="spacingAndGlyphs" class="tl">50W</text>
<text x="413.5" y="627.0" font-size="12.5" text-anchor="middle" textLength="21" lengthAdjust="spacingAndGlyphs" class="tl">40W</text>
<text x="477.5" y="627.0" font-size="12.5" text-anchor="middle" textLength="21" lengthAdjust="spacingAndGlyphs" class="tl">30W</text>
<text x="542.5" y="627.0" font-size="12.5" text-anchor="middle" textLength="21" lengthAdjust="spacingAndGlyphs" class="tl">20W</text>
<text x="608.0" y="627.0" font-size="12.5" text-anchor="middle" textLength="21" lengthAdjust="spacingAndGlyphs" class="tl">10W</text>
<text x="19.6" y="617.0" font-size="12.5" text-anchor="end" textLength="13.5" lengthAdjust="spacingAndGlyphs" class="tl">EQ</text>
<text x="19.6" y="579.0" font-size="12.5" text-anchor="end" textLength="14" lengthAdjust="spacingAndGlyphs" class="tl">5N</text>
<text x="19.6" y="540.0" font-size="12.5" text-anchor="end" textLength="19.5" lengthAdjust="spacingAndGlyphs" class="tl">10N</text>
<text x="19.6" y="501.0" font-size="12.5" text-anchor="end" textLength="19.5" lengthAdjust="spacingAndGlyphs" class="tl">15N</text>
<text x="19.6" y="462.0" font-size="12.5" text-anchor="end" textLength="19.5" lengthAdjust="spacingAndGlyphs" class="tl">20N</text>
<text x="19.6" y="424.0" font-size="12.5" text-anchor="end" textLength="19.5" lengthAdjust="spacingAndGlyphs" class="tl">25N</text>
<text x="19.6" y="385.0" font-size="12.5" text-anchor="end" textLength="19.5" lengthAdjust="spacingAndGlyphs" class="tl">30N</text>
<text x="19.6" y="346.0" font-size="12.5" text-anchor="end" textLength="19.5" lengthAdjust="spacingAndGlyphs" class="tl">35N</text>
<text x="19.6" y="307.0" font-size="12.5" text-anchor="end" textLength="19.5" lengthAdjust="spacingAndGlyphs" class="tl">40N</text>
<text x="19.6" y="269.0" font-size="12.5" text-anchor="end" textLength="19.5" lengthAdjust="spacingAndGlyphs" class="tl">45N</text>
<text x="19.6" y="230.0" font-size="12.5" text-anchor="end" textLength="19.5" lengthAdjust="spacingAndGlyphs" class="tl">50N</text>
<rect x="643" y="225" width="582" height="388" fill="none" stroke="#000" stroke-width="2"/>
<path d="M643.5 614V616 M708.5 614V616 M772.5 614V616 M837.5 614V616 M901.5 614V616 M966.5 614V616 M1031.5 614V616 M1095.5 614V616 M1160.5 614V616 M1225.5 614V616 M640 612.5H642 M640 574.5H642 M640 535.5H642 M640 496.5H642 M640 457.5H642 M640 419.5H642 M640 380.5H642 M640 341.5H642 M640 302.5H642 M640 264.5H642 M640 225.5H642" stroke="#000" stroke-width="1" fill="none"/>
<text x="643.5" y="627.0" font-size="12.5" text-anchor="middle" textLength="27.5" lengthAdjust="spacingAndGlyphs" class="tl">100W</text>
<text x="708.5" y="627.0" font-size="12.5" text-anchor="middle" textLength="21" lengthAdjust="spacingAndGlyphs" class="tl">90W</text>
<text x="772.5" y="627.0" font-size="12.5" text-anchor="middle" textLength="21" lengthAdjust="spacingAndGlyphs" class="tl">80W</text>
<text x="837.5" y="627.0" font-size="12.5" text-anchor="middle" textLength="21" lengthAdjust="spacingAndGlyphs" class="tl">70W</text>
<text x="901.5" y="627.0" font-size="12.5" text-anchor="middle" textLength="21" lengthAdjust="spacingAndGlyphs" class="tl">60W</text>
<text x="966.5" y="627.0" font-size="12.5" text-anchor="middle" textLength="21" lengthAdjust="spacingAndGlyphs" class="tl">50W</text>
<text x="1031.5" y="627.0" font-size="12.5" text-anchor="middle" textLength="21" lengthAdjust="spacingAndGlyphs" class="tl">40W</text>
<text x="1095.5" y="627.0" font-size="12.5" text-anchor="middle" textLength="21" lengthAdjust="spacingAndGlyphs" class="tl">30W</text>
<text x="1160.5" y="627.0" font-size="12.5" text-anchor="middle" textLength="21" lengthAdjust="spacingAndGlyphs" class="tl">20W</text>
<text x="1226.0" y="627.0" font-size="12.5" text-anchor="middle" textLength="21" lengthAdjust="spacingAndGlyphs" class="tl">10W</text>
<text x="637.6" y="617.0" font-size="12.5" text-anchor="end" textLength="13.5" lengthAdjust="spacingAndGlyphs" class="tl">EQ</text>
<text x="637.6" y="579.0" font-size="12.5" text-anchor="end" textLength="14" lengthAdjust="spacingAndGlyphs" class="tl">5N</text>
<text x="637.6" y="540.0" font-size="12.5" text-anchor="end" textLength="19.5" lengthAdjust="spacingAndGlyphs" class="tl">10N</text>
<text x="637.6" y="501.0" font-size="12.5" text-anchor="end" textLength="19.5" lengthAdjust="spacingAndGlyphs" class="tl">15N</text>
<text x="637.6" y="462.0" font-size="12.5" text-anchor="end" textLength="19.5" lengthAdjust="spacingAndGlyphs" class="tl">20N</text>
<text x="637.6" y="424.0" font-size="12.5" text-anchor="end" textLength="19.5" lengthAdjust="spacingAndGlyphs" class="tl">25N</text>
<text x="637.6" y="385.0" font-size="12.5" text-anchor="end" textLength="19.5" lengthAdjust="spacingAndGlyphs" class="tl">30N</text>
<text x="637.6" y="346.0" font-size="12.5" text-anchor="end" textLength="19.5" lengthAdjust="spacingAndGlyphs" class="tl">35N</text>
<text x="637.6" y="307.0" font-size="12.5" text-anchor="end" textLength="19.5" lengthAdjust="spacingAndGlyphs" class="tl">40N</text>
<text x="637.6" y="269.0" font-size="12.5" text-anchor="end" textLength="19.5" lengthAdjust="spacingAndGlyphs" class="tl">45N</text>
<text x="637.6" y="230.0" font-size="12.5" text-anchor="end" textLength="19.5" lengthAdjust="spacingAndGlyphs" class="tl">50N</text>
<polygon points="676,727.5 730,719.5 730,735.5" fill="#000064" stroke="#000" stroke-width="1"/>
<polygon points="1171,727.5 1114.5,719.5 1114.5,735.5" fill="#640000" stroke="#000" stroke-width="1"/>
<rect x="730" y="719.5" width="55" height="16.0" fill="#0000fa" stroke="#000" stroke-width="1"/>
<rect x="785" y="719.5" width="55" height="16.0" fill="#6969ff" stroke="#000" stroke-width="1"/>
<rect x="840" y="719.5" width="54.5" height="16.0" fill="#c8c8ff" stroke="#000" stroke-width="1"/>
<rect x="894.5" y="719.5" width="55.0" height="16.0" fill="#ffffff" stroke="#000" stroke-width="1"/>
<rect x="949.5" y="719.5" width="55.0" height="16.0" fill="#ffc8c8" stroke="#000" stroke-width="1"/>
<rect x="1004.5" y="719.5" width="55.0" height="16.0" fill="#ff6969" stroke="#000" stroke-width="1"/>
<rect x="1059.5" y="719.5" width="55.0" height="16.0" fill="#fa0000" stroke="#000" stroke-width="1"/>
</svg></body></html>
